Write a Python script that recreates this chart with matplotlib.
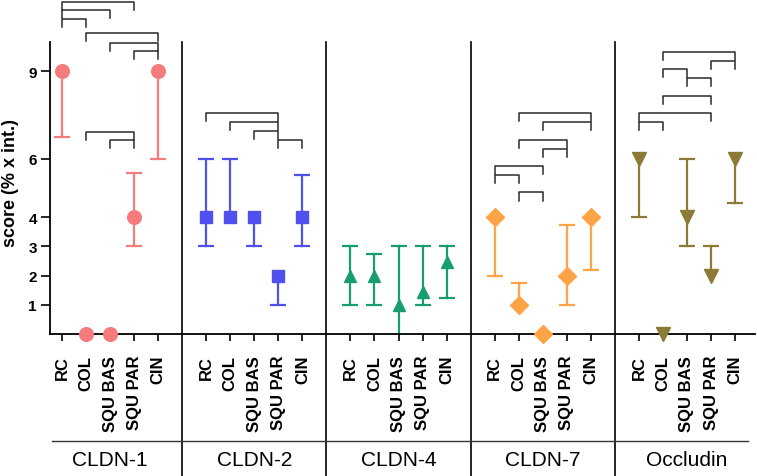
import matplotlib
matplotlib.use("Agg")
import matplotlib.pyplot as plt

plt.rcParams['font.family'] = ['Liberation Sans', 'DejaVu Sans']

# regions on the x axis (repeated per marker) and the marker proteins
regions = ['RC', 'COL', 'SQU BAS', 'SQU PAR', 'CIN']
proteins = ['CLDN-1', 'CLDN-2', 'CLDN-4', 'CLDN-7', 'Occludin']
colors = ['#F47C7C', '#5050EE', '#179E6C', '#FFA347', '#8B7B35']
markers = ['o', 's', '^', 'D', 'v']
msizes = [9.8, 9.2, 9, 8.7, 9.4]

# median score and range (low / high) per region
cldn1_med = [9, 0, 0, 4, 9]
cldn1_low = [6.75, 0, 0, 3, 6]
cldn1_high = [9, 0, 0, 5.5, 9]

cldn2_med = [4, 4, 4, 2, 4]
cldn2_low = [3, 4, 3, 1, 3]
cldn2_high = [6, 6, 4, 2, 5.45]

cldn4_med = [2, 2, 1, 1.45, 2.45]
cldn4_low = [1, 1, 0, 1, 1.25]
cldn4_high = [3, 2.75, 3, 3, 3]

cldn7_med = [4, 1, 0, 2, 4]
cldn7_low = [2, 1, 0, 1, 2.2]
cldn7_high = [4, 1.75, 0, 3.75, 4]

occl_med = [6, 0, 4, 2, 6]
occl_low = [4, 0, 3, 2, 4.5]
occl_high = [6, 0, 6, 3, 6]

# significance brackets: (region a, region b, height)
cldn1_sig = [(0, 3, 11.37), (0, 2, 11.09), (0, 1, 10.78), (1, 4, 10.31),
             (2, 4, 9.97), (3, 4, 9.69), (1, 3, 6.93), (2, 3, 6.66)]
cldn2_sig = [(0, 3, 7.58), (1, 3, 7.27), (2, 3, 6.96), (3, 4, 6.66)]
cldn4_sig = []
cldn7_sig = [(1, 4, 7.58), (2, 4, 7.27), (1, 3, 6.66), (2, 3, 6.35),
             (0, 2, 5.77), (0, 1, 5.46), (1, 2, 4.85)]
occl_sig = [(1, 4, 9.66), (3, 4, 9.35), (1, 2, 9.08), (2, 3, 8.77),
            (1, 3, 8.16), (0, 3, 7.58), (0, 1, 7.27)]

meds = [cldn1_med, cldn2_med, cldn4_med, cldn7_med, occl_med]
lows = [cldn1_low, cldn2_low, cldn4_low, cldn7_low, occl_low]
highs = [cldn1_high, cldn2_high, cldn4_high, cldn7_high, occl_high]
sigs = [cldn1_sig, cldn2_sig, cldn4_sig, cldn7_sig, occl_sig]

yticks = [1, 2, 3, 4, 6, 9]

fig = plt.figure(figsize=(7.57, 4.77), dpi=100)
ax = fig.add_axes([50 / 757, 142 / 477, 705 / 757, 292 / 477])

gap = 6
drop = 0.28
xticks, xlabels = [], []
for g in range(len(proteins)):
    xs = [g * gap + i for i in range(len(regions))]
    xticks += xs
    xlabels += regions
    c = colors[g]
    for x, m, lo, hi in zip(xs, meds[g], lows[g], highs[g]):
        if hi > lo:
            ax.plot([x, x], [lo, hi], color=c, lw=1.6, zorder=2)
        if lo < m and lo > 0:
            ax.plot(x, lo, marker='_', ms=11.5, mew=1.6, color=c, zorder=2)
        if hi > m:
            ax.plot(x, hi, marker='_', ms=11.5, mew=1.6, color=c, zorder=2)
    ax.plot(xs, meds[g], ls='none', marker=markers[g], ms=msizes[g],
            color=c, mec=c, zorder=3, clip_on=False)
    for a, b, h in sigs[g]:
        xa, xb = xs[a], xs[b]
        ax.plot([xa, xa, xb, xb], [h - drop, h, h, h - drop], color='#2a2a2a',
                lw=1.1, clip_on=False, zorder=4)
    # group separator and group label
    if g > 0:
        ax.axvline(g * gap - 1, ymin=-142 / 292, ymax=1, color='black',
                   lw=1.2, clip_on=False)
    ax.text(g * gap + 2, -0.43, proteins[g], transform=ax.get_xaxis_transform(),
            ha='center', va='center', fontsize=15)

ax.plot([-0.42, 28.54], [-0.365, -0.365], transform=ax.get_xaxis_transform(),
        color='#333333', lw=1.0, clip_on=False)

ax.set_xlim(-0.5, 28.83)
ax.set_ylim(0, 10)
ax.set_xticks(xticks)
ax.set_xticklabels(xlabels, rotation=90, fontsize=12, fontweight='bold')
ax.set_yticks(yticks)
ax.set_yticklabels([str(v) for v in yticks], fontsize=11, fontweight='bold')
ax.tick_params(axis='x', direction='out', length=5, width=1.2, pad=10)
ax.tick_params(axis='y', direction='out', length=6.5, width=1.2, pad=3)
ax.set_ylabel('score (% x int.)', fontsize=13, fontweight='bold')
ax.yaxis.set_label_coords(-31 / 705, 0.52)

for s in ['top', 'right']:
    ax.spines[s].set_visible(False)
for s in ['left', 'bottom']:
    ax.spines[s].set_linewidth(1.3)

fig.savefig('out.png', dpi=100)
